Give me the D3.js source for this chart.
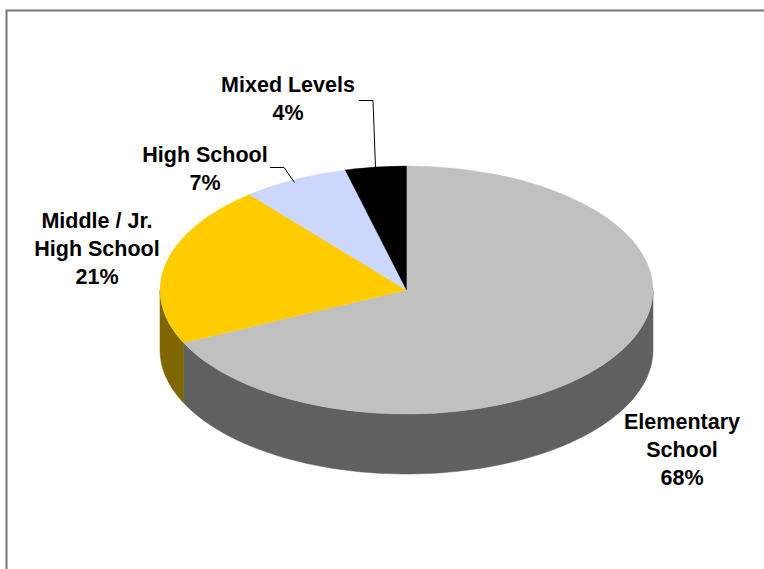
<!DOCTYPE html>
<html>
<head>
<meta charset="utf-8">
<script src="https://cdn.jsdelivr.net/npm/d3@7"></script>
<style>
  html, body { margin: 0; padding: 0; background: #fff; }
  svg { display: block; }
  text { font-family: "Liberation Sans", Arial, sans-serif; font-weight: bold; font-size: 21.5px; fill: #000; }
</style>
</head>
<body>
<svg id="chart" width="764" height="569"></svg>
<script>
// School level shares (percent)
const categories = ["Elementary School", "Middle / Jr. High School", "High School", "Mixed Levels"];
const values = [68, 21, 7, 4];
const labelLines = [["Elementary", "School"], ["Middle / Jr.", "High School"], ["High School"], ["Mixed Levels"]];
const topColors = ["#C0C0C0", "#FFCC00", "#CCD7FF", "#000000"];
const sideColors = ["#606060", "#806600", "#666C80", "#000000"];

const W = 764, H = 569;
const cx = 406.5, cy = 290, rx = 246.5, ry = 124, depth = 60;

const svg = d3.select("#chart");

// chart frame (only the top and left edges fall inside the view)
svg.append("path")
  .attr("d", `M6.5,${H + 5} L6.5,10.5 L${W + 5},10.5`)
  .attr("fill", "none").attr("stroke", "#777").attr("stroke-width", 2);

const pie = d3.pie().sort(null).value(d => d).startAngle(0).endAngle(2 * Math.PI);
const arcs = pie(values);

// point on the tilted ellipse for a clockwise-from-top angle
const pt = (a, dy = 0) => [cx + rx * Math.sin(a), cy - ry * Math.cos(a) + dy];

// side wall: visible between 90° and 270° (front half)
function sidePath(a0, a1) {
  const s = Math.max(a0, Math.PI / 2), e = Math.min(a1, 3 * Math.PI / 2);
  if (e <= s) return null;
  const n = 80, top = [], bot = [];
  for (let i = 0; i <= n; i++) {
    const a = s + (e - s) * i / n;
    top.push(pt(a));
    bot.push(pt(a, depth));
  }
  return d3.line()(top.concat(bot.reverse())) + "Z";
}

const sides = svg.append("g");
arcs.forEach((d, i) => {
  const p = sidePath(d.startAngle, d.endAngle);
  if (p) sides.append("path").attr("d", p).attr("fill", sideColors[i])
    .attr("stroke", sideColors[i]).attr("stroke-width", 0.5);
});

// top face: a circular arc squashed vertically
const arc = d3.arc().innerRadius(0).outerRadius(rx);
svg.append("g")
  .attr("transform", `translate(${cx},${cy}) scale(1,${ry / rx})`)
  .selectAll("path").data(arcs).join("path")
  .attr("d", arc)
  .attr("fill", (d, i) => topColors[i])
  .attr("stroke", (d, i) => topColors[i]).attr("stroke-width", 0.5);

// leader lines for the two narrow slices
const leaders = [
  { i: 2, pts: [[270, 167.5], [284, 167.5]] },
  { i: 3, pts: [[359, 100.5], [373, 100.5]] }
];
leaders.forEach(l => {
  const d = arcs[l.i];
  const mid = (d.startAngle + d.endAngle) / 2;
  const edge = pt(mid);
  svg.append("path")
    .attr("d", d3.line()(l.pts.concat([[edge[0], edge[1] + 3]])))
    .attr("fill", "none").attr("stroke", "#000").attr("stroke-width", 1);
});

// labels: name lines then percentage
const labelPos = [
  { x: 682, y: 429 },
  { x: 97, y: 228 },
  { x: 205, y: 162 },
  { x: 288, y: 92 }
];
const lineH = 28;
arcs.forEach((d, i) => {
  const lines = labelLines[i].concat([values[i] + "%"]);
  const t = svg.append("text").attr("text-anchor", "middle")
    .attr("x", labelPos[i].x).attr("y", labelPos[i].y);
  lines.forEach((s, k) => {
    t.append("tspan").attr("x", labelPos[i].x).attr("y", labelPos[i].y + k * lineH).text(s);
  });
});
</script>
</body>
</html>
